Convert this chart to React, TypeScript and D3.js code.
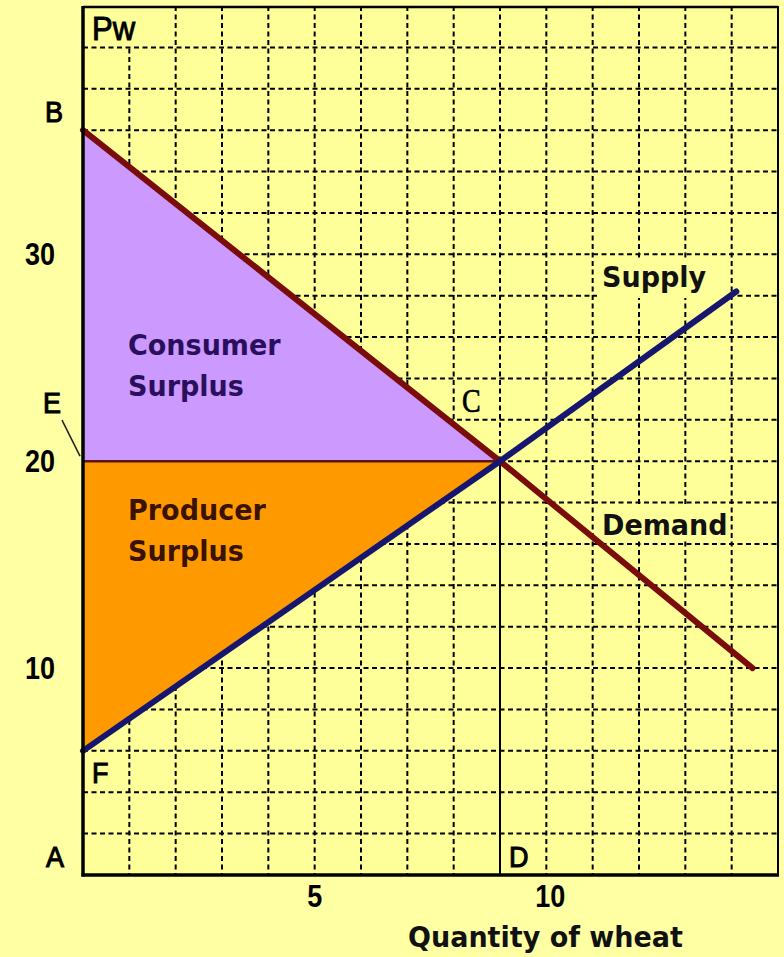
import React from 'react';
import * as d3 from 'd3';

// ---- data ----
const xDomain: [number, number] = [0, 15];
const yDomain: [number, number] = [0, 42];
const xTickValues = [5, 10];
const yTickValues = [10, 20, 30];
const xGridValues = [1, 2, 3, 4, 5, 6, 7, 8, 9, 10, 11, 12, 13, 14];
const yGridValues = [2, 4, 6, 8, 10, 12, 14, 16, 18, 20, 22, 24, 26, 28, 30, 32, 34, 36, 38, 40];
const demand: [number, number][] = [[0, 36], [9, 20], [14.45, 10]];
const supply: [number, number][] = [[0, 6], [9, 20], [14.1, 28.2]];
const equilibrium: [number, number] = [9, 20];
const xAxisTitle = 'Quantity of wheat';
const yAxisTitle = 'Pw';

const SANS = '"Liberation Sans", Arial, sans-serif';
const SANS_B = '"DejaVu Sans", Verdana, sans-serif';
const SERIF = '"Liberation Serif", "Times New Roman", serif';

const W = 784, H = 957;

type TP = { x: number; y: number; children: React.ReactNode; size?: number; weight?: string; family?: string; anchor?: string; fill?: string; sy?: number; sw?: number };
const T = ({ x, y, children, size = 27, weight = 'normal', family = SANS, anchor = 'start', fill = '#000', sy = 1.12, sw = 0 }: TP) => (
  <text transform={`translate(${x},${y}) scale(1,${sy})`} fontSize={size} fontWeight={weight} fontFamily={family} textAnchor={anchor as any} fill={fill} stroke={sw ? fill : 'none'} strokeWidth={sw}>{children}</text>
);

export default function App() {
  const xs = d3.scaleLinear().domain(xDomain).range([83, 778]);
  const ys = d3.scaleLinear().domain(yDomain).range([875, 6]);
  const line = d3.line<[number, number]>().x(d => xs(d[0])).y(d => ys(d[1]));
  const area = (pts: [number, number][]) => line(pts) + 'Z';
  const [ex, ey] = equilibrium;
  const csPoly: [number, number][] = [[0, demand[0][1]], [ex, ey], [0, ey]];
  const psPoly: [number, number][] = [[0, ey], [ex, ey], [0, supply[0][1]]];
  const x0 = xs(0), y0 = ys(0);
  const x1 = xs(xDomain[1]), yTop = ys(yDomain[1]);

  return (
    <svg width={W} height={H} style={{ position: 'absolute', left: 0, top: 0 }}>
      <rect x={0} y={0} width={W} height={H} fill="#FFFFA3" />
      <rect x={x0} y={yTop} width={x1 - x0} height={y0 - yTop} fill="#FFFF99" />
      {/* grid */}
      {xGridValues.map(v => (
        <line key={'gx' + v} x1={xs(v)} x2={xs(v)} y1={yTop} y2={y0} stroke="#000" strokeWidth={2} strokeDasharray="5,3.5" />
      ))}
      {yGridValues.map(v => (
        <line key={'gy' + v} x1={x0} x2={x1} y1={ys(v)} y2={ys(v)} stroke="#000" strokeWidth={2} strokeDasharray="5,3.5" />
      ))}
      {/* label backgrounds */}
      <rect x={x0 + 1} y={yTop + 1} width={68} height={39} fill="#FFFF99" />
      <rect x={597} y={258} width={132} height={40} fill="#FFFF99" />
      <rect x={597} y={506} width={132} height={35} fill="#FFFF99" />
      {/* surplus areas */}
      <path d={area(csPoly)} fill="#CC99FF" />
      <path d={area(psPoly)} fill="#FF9900" />
      {/* price line and quantity line */}
      <line x1={x0} x2={xs(ex)} y1={ys(ey)} y2={ys(ey)} stroke="#5a1414" strokeWidth={2.5} />
      <line x1={xs(ex)} x2={xs(ex)} y1={ys(ey)} y2={y0} stroke="#000" strokeWidth={2} />
      {/* curves */}
      <path d={line(demand) || ''} fill="none" stroke="#7a0c0c" strokeWidth={6} strokeLinecap="round" />
      <path d={line(supply) || ''} fill="none" stroke="#16166e" strokeWidth={6} strokeLinecap="round" />
      {/* borders */}
      <line x1={x1} x2={x1} y1={yTop} y2={y0} stroke="#000" strokeWidth={2} />
      <line x1={x0} x2={x1} y1={yTop + 1} y2={yTop + 1} stroke="#000" strokeWidth={2.5} />
      <line x1={x0} x2={x0} y1={yTop} y2={y0 + 1.5} stroke="#000" strokeWidth={3.5} />
      <line x1={x0 - 1.5} x2={x1 + 1} y1={y0} y2={y0} stroke="#000" strokeWidth={3.5} />
      {/* E leader */}
      <line x1={x0 - 21} y1={ys(ey) - 41} x2={x0 - 3} y2={ys(ey) - 5} stroke="#222" strokeWidth={1.6} />

      {/* ticks */}
      {yTickValues.map(v => (
        <T key={'yt' + v} x={x0 - 43} y={ys(v) + 11} size={27} weight="bold" anchor="middle" sy={1.15}>{v}</T>
      ))}
      {xTickValues.map(v => (
        <T key={'xt' + v} x={xs(v) + (v >= 10 ? 4 : 0)} y={y0 + 32} size={27} weight="bold" anchor="middle" sy={1.15}>{v}</T>
      ))}
      {/* point labels */}
      <T x={x0 + 9} y={40} size={31} sy={1.06} sw={0.9}>{yAxisTitle}</T>
      <T x={x0 - 29} y={ys(36) - 8} anchor="middle" sw={1}>B</T>
      <T x={x0 - 31} y={ys(ey) - 48} anchor="middle" sw={1}>E</T>
      <T x={x0 - 28} y={y0 - 8} anchor="middle" sw={1}>A</T>
      <T x={x0 + 9} y={y0 - 92} sw={1}>F</T>
      <T x={xs(ex) + 9} y={y0 - 8} sw={1}>D</T>
      <T x={xs(ex) - 38} y={ys(ey) - 49} family={SERIF} size={28} sy={1.2} sw={0.6}>C</T>
      {/* curve labels */}
      <T x={602} y={287} family={SANS_B} weight="bold" fill="#111" sy={1.08}>Supply</T>
      <T x={602} y={535} family={SANS_B} weight="bold" fill="#111" sy={1.08}>Demand</T>
      <T x={128} y={355} family={SANS_B} weight="bold" fill="#2a0f5c" sy={1.08}>Consumer</T>
      <T x={128} y={396} family={SANS_B} weight="bold" fill="#2a0f5c" sy={1.08}>Surplus</T>
      <T x={128} y={520} family={SANS_B} weight="bold" fill="#3a1200" sy={1.08}>Producer</T>
      <T x={128} y={561} family={SANS_B} weight="bold" fill="#3a1200" sy={1.08}>Surplus</T>
      <T x={408} y={947} family={SANS_B} weight="bold" fill="#111" sy={1.08}>{xAxisTitle}</T>
    </svg>
  );
}
